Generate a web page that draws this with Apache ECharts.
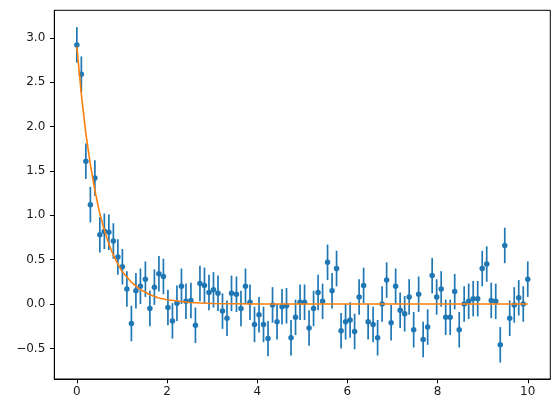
<!DOCTYPE html>
<html>
<head>
<meta charset="utf-8">
<script src="https://cdn.jsdelivr.net/npm/echarts@6/dist/echarts.min.js"></script>
<style>
  html, body { margin: 0; padding: 0; background: #fff; }
  #chart { width: 559px; height: 413px; }
</style>
</head>
<body>
<div id="chart"></div>
<script>
// sample positions (evenly spaced 0..10, 100 samples)
const xVals = [
  0.00, 0.10, 0.20, 0.30, 0.40, 0.51, 0.61, 0.71, 0.81, 0.91,
  1.01, 1.11, 1.21, 1.31, 1.41, 1.52, 1.62, 1.72, 1.82, 1.92,
  2.02, 2.12, 2.22, 2.32, 2.42, 2.53, 2.63, 2.73, 2.83, 2.93,
  3.03, 3.13, 3.23, 3.33, 3.43, 3.54, 3.64, 3.74, 3.84, 3.94,
  4.04, 4.14, 4.24, 4.34, 4.44, 4.55, 4.65, 4.75, 4.85, 4.95,
  5.05, 5.15, 5.25, 5.35, 5.45, 5.56, 5.66, 5.76, 5.86, 5.96,
  6.06, 6.16, 6.26, 6.36, 6.46, 6.57, 6.67, 6.77, 6.87, 6.97,
  7.07, 7.17, 7.27, 7.37, 7.47, 7.58, 7.68, 7.78, 7.88, 7.98,
  8.08, 8.18, 8.28, 8.38, 8.48, 8.59, 8.69, 8.79, 8.89, 8.99,
  9.09, 9.19, 9.29, 9.39, 9.49, 9.60, 9.70, 9.80, 9.90, 10.00
];

// measured values
const yVals = [
  2.92, 2.59, 1.61, 1.12, 1.42, 0.78, 0.82, 0.81, 0.71, 0.53,
  0.42, 0.17, -0.22, 0.15, 0.20, 0.28, -0.05, 0.19, 0.34, 0.31,
  -0.04, -0.19, 0.01, 0.20, 0.03, 0.04, -0.24, 0.23, 0.21, 0.13,
  0.16, 0.12, -0.08, -0.16, 0.12, 0.11, -0.05, 0.20, 0.02, -0.23,
  -0.12, -0.23, -0.39, -0.01, -0.20, -0.03, -0.02, -0.38, -0.15, 0.02,
  0.02, -0.27, -0.05, 0.13, 0.03, 0.47, 0.15, 0.40, -0.30, -0.20,
  -0.18, -0.31, 0.08, 0.21, -0.20, -0.23, -0.38, 0.00, 0.27, -0.21,
  0.20, -0.07, -0.11, 0.08, -0.29, 0.11, -0.40, -0.26, 0.32, 0.08,
  0.17, -0.15, -0.15, 0.14, -0.29, 0.00, 0.03, 0.06, 0.06, 0.40,
  0.45, 0.04, 0.03, -0.46, 0.66, -0.16, -0.01, 0.07, 0.00, 0.28
];

const yErr = 0.2;

// fitted curve
const fitX = [0, 0.1, 0.2, 0.3, 0.4, 0.5, 0.6, 0.7, 0.8, 0.9, 1.0, 1.2, 1.4, 1.6, 1.8, 2.0, 2.5, 3.0, 4.0, 5, 6, 7, 8, 9, 10];
const fitY = [2.90, 2.36, 1.92, 1.57, 1.28, 1.04, 0.85, 0.69, 0.56, 0.46, 0.37, 0.25, 0.165, 0.11, 0.07, 0.048, 0.017, 0.006, 0.001, 0, 0, 0, 0, 0, 0];

const xTicks = [0, 2, 4, 6, 8, 10];
const yTicks = [-0.5, 0, 0.5, 1.0, 1.5, 2.0, 2.5, 3.0];

const points = xVals.map((x, i) => [x, yVals[i]]);
const fitLine = fitX.map((x, i) => [x, fitY[i]]);

const chart = echarts.init(document.getElementById("chart"));

const labelStyle = {
    color: "#1a1a1a",
    fontSize: 12,
    fontFamily: "DejaVu Sans"
};

chart.setOption({
    animation: false,
    backgroundColor: "#fff",
    grid: {
        left: 54.3,
        top: 10.3,
        right: 8.7,
        bottom: 34,
        show: true,
        borderColor: "#000",
        borderWidth: 1,
        backgroundColor: "transparent"
    },
    xAxis: {
        type: "value",
        min: -0.5,
        max: 10.5,
        splitLine: { show: false },
        axisLine: { show: true, onZero: false, lineStyle: { color: "#000", width: 1 } },
        axisTick: { show: true, length: 4.3, customValues: xTicks, lineStyle: { color: "#000", width: 1 } },
        axisLabel: {
            ...labelStyle,
            margin: 7,
            customValues: xTicks,
            formatter: (v) => String(v).replace("-", "\u2212")
        }
    },
    yAxis: {
        type: "value",
        min: -0.845,
        max: 3.31,
        splitLine: { show: false },
        axisLine: { show: true, onZero: false, lineStyle: { color: "#000", width: 1 } },
        axisTick: { show: true, length: 4.3, customValues: yTicks, lineStyle: { color: "#000", width: 1 } },
        axisLabel: {
            ...labelStyle,
            margin: 9,
            customValues: yTicks,
            formatter: (v) => v.toFixed(1).replace("-", "\u2212")
        }
    },
    series: [
        {
            type: "custom",
            data: points,
            encode: { x: 0, y: 1 },
            z: 2,
            renderItem: (params, api) => {
                const x = api.value(0);
                const y = api.value(1);
                const top = api.coord([x, y + yErr]);
                const bot = api.coord([x, y - yErr]);
                return {
                    type: "line",
                    shape: { x1: top[0], y1: top[1], x2: bot[0], y2: bot[1] },
                    style: { stroke: "#1f77b4", lineWidth: 1.7 }
                };
            }
        },
        {
            type: "scatter",
            data: points,
            symbol: "circle",
            symbolSize: 5.5,
            z: 3,
            itemStyle: { color: "#1f77b4", opacity: 1 }
        },
        {
            type: "line",
            data: fitLine,
            showSymbol: false,
            z: 4,
            lineStyle: { color: "#ff7f0e", width: 1.6 },
            itemStyle: { color: "#ff7f0e" }
        }
    ]
});
</script>
</body>
</html>
